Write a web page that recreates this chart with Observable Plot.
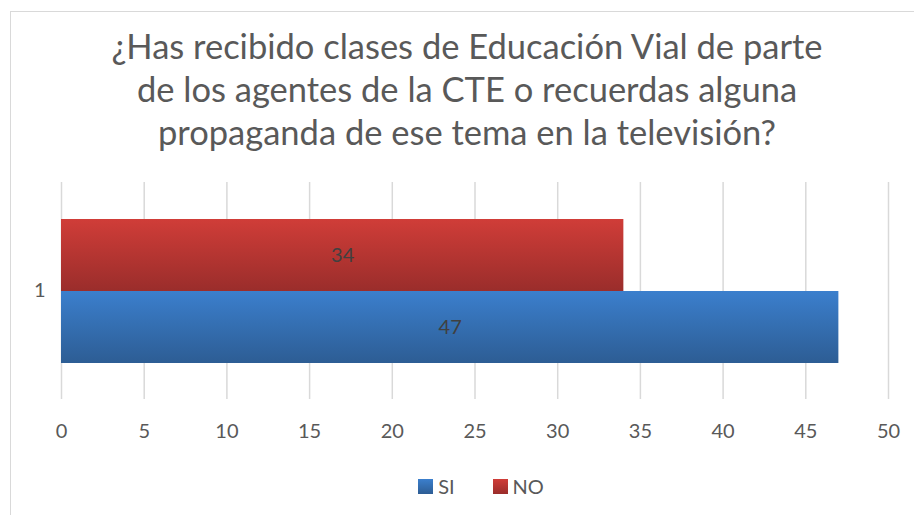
<!DOCTYPE html>
<html>
<head>
<meta charset="utf-8">
<script src="https://cdn.jsdelivr.net/npm/d3@7"></script>
<script src="https://cdn.jsdelivr.net/npm/@observablehq/plot@0.6"></script>
<style>
  html, body { margin: 0; padding: 0; background: #fff; }
  body { width: 914px; height: 515px; position: relative; overflow: hidden; font-family: Lato, "Open Sans", sans-serif; }
  #frame { position: absolute; left: 10px; top: 11px; width: 920px; height: 520px; border-left: 1.5px solid #d9d9d9; border-top: 1.5px solid #d9d9d9; }
  #title { position: absolute; left: 0; width: 934px; top: 24px; text-align: center; color: #595959; font-size: 34.5px; line-height: 43px; }
  #chart { position: absolute; left: 0; top: 172px; }
  #legend { position: absolute; top: 474px; left: 24px; width: 914px; display: flex; justify-content: center; gap: 38px; color: #595959; font-size: 20px; }
  #legend .item { display: flex; align-items: center; gap: 5px; }
  #legend .sw { width: 15px; height: 15px; display: inline-block; }
</style>
</head>
<body>
<div id="frame"></div>
<div id="title"></div>
<div id="chart"></div>
<div id="legend"></div>
<script>
const titleLines = [
  "¿Has recibido clases de Educación Vial de parte",
  "de los agentes de la CTE o recuerdas alguna",
  "propaganda de ese tema en la televisión?"
];
const category = ["1"];
const series = ["NO", "SI"];
const values = [34, 47];
const legendOrder = ["SI", "NO"];
const xTicks = [0, 5, 10, 15, 20, 25, 30, 35, 40, 45, 50];
const gradients = {
  SI: ["#3b7fcd", "#2d5d94"],
  NO: ["#d03d38", "#9a2d2b"]
};

document.getElementById("title").innerHTML = titleLines.map(l => `<div>${l}</div>`).join("");

const data = series.map((s, i) => ({cat: category[0], series: s, value: values[i]}));

const chart = Plot.plot({
  width: 914,
  height: 280,
  marginLeft: 61,
  marginRight: 26,
  marginTop: 10,
  marginBottom: 53,
  style: {fontFamily: "Lato, 'Open Sans', sans-serif", fontSize: "20px", color: "#595959", background: "transparent"},
  x: {domain: [0, 50], ticks: xTicks, tickSize: 0, tickPadding: 24, label: null},
  fy: {domain: category, padding: 0, label: null, tickSize: 0, tickPadding: 16, axis: "left"},
  y: {domain: series, paddingInner: 0, paddingOuter: 0.5, axis: null},
  marks: [
    Plot.ruleX(xTicks, {stroke: "#d9d9d9", strokeWidth: 1.5}),
    Plot.barX(data, {fy: "cat", y: "series", x: "value", fill: d => `url(#grad-${d.series})`}),
    Plot.text(data, {fy: "cat", y: "series", x: d => d.value / 2, text: d => String(d.value), fill: "#404040", fontSize: 20})
  ]
});

const defs = d3.select(chart).insert("defs", ":first-child");
for (const [k, [c1, c2]] of Object.entries(gradients)) {
  const g = defs.append("linearGradient").attr("id", `grad-${k}`).attr("x1", 0).attr("y1", 0).attr("x2", 0).attr("y2", 1);
  g.append("stop").attr("offset", "0%").attr("stop-color", c1);
  g.append("stop").attr("offset", "100%").attr("stop-color", c2);
}
document.getElementById("chart").appendChild(chart);

const legend = document.getElementById("legend");
for (const s of legendOrder) {
  const [c1, c2] = gradients[s];
  legend.insertAdjacentHTML("beforeend", `<span class="item"><span class="sw" style="background:linear-gradient(${c1},${c2})"></span>${s}</span>`);
}
</script>
</body>
</html>
